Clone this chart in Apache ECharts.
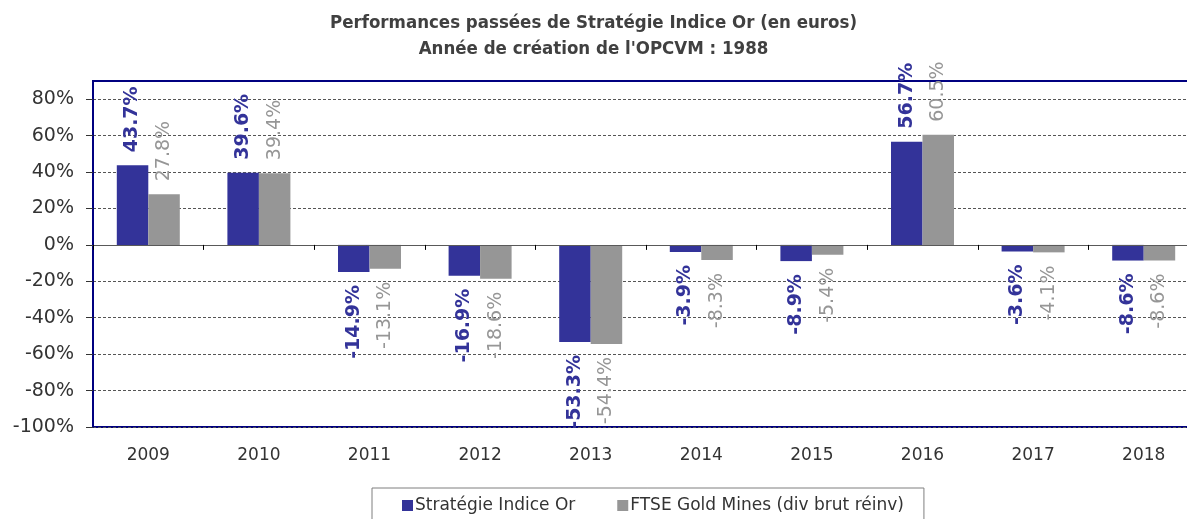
<!DOCTYPE html>
<html>
<head>
<meta charset="utf-8">
<script src="https://cdn.jsdelivr.net/npm/echarts@6/dist/echarts.min.js"></script>
<style>
  html, body { margin: 0; padding: 0; background: #fff; }
  #chart { width: 1187px; height: 519px; }
</style>
</head>
<body>
<div id="chart"></div>
<script>
const years = ["2009", "2010", "2011", "2012", "2013", "2014", "2015", "2016", "2017", "2018"];
const strategie = [43.7, 39.6, -14.9, -16.9, -53.3, -3.9, -8.9, 56.7, -3.6, -8.6];
const ftse = [27.8, 39.4, -13.1, -18.6, -54.4, -8.3, -5.4, 60.5, -4.1, -8.6];
const yTicks = [-100, -80, -60, -40, -20, 0, 20, 40, 60, 80];

const BLUE = "#333399";
const GREY = "#969696";

// labels sit above positive bars and below negative ones, rotated
const withLabels = (values) => values.map(v => ({
  value: v,
  label: {
    position: v >= 0 ? "top" : "bottom",
    align: v >= 0 ? "left" : "right"
  }
}));

const labelBase = (color, weight) => ({
  show: true,
  rotate: 90,
  verticalAlign: "middle",
  distance: 13,
  color: color,
  fontFamily: "DejaVu Sans",
  fontSize: 19,
  fontWeight: weight,
  formatter: (p) => p.value.toFixed(1) + "%"
});

const myChart = echarts.init(document.getElementById("chart"));
myChart.setOption({
  animation: false,
  title: {
    text: "Performances passées de Stratégie Indice Or (en euros)\nAnnée de création de l'OPCVM : 1988",
    left: "center",
    top: 5,
    textStyle: {
      fontFamily: "DejaVu Sans Condensed",
      fontSize: 18.5,
      fontWeight: "bold",
      color: "#404040",
      lineHeight: 26
    }
  },
  legend: {
    left: 372,
    top: 488,
    padding: [9, 20, 9, 30],
    borderColor: "#7f7f7f",
    borderWidth: 1,
    itemWidth: 11,
    itemHeight: 11,
    itemGap: 42,
    icon: "rect",
    textStyle: { fontFamily: "DejaVu Sans", fontSize: 17, color: "#333", padding: [0, 0, 0, -3] },
    data: ["Stratégie Indice Or", "FTSE Gold Mines (div brut réinv)"]
  },
  grid: {
    left: 93,
    right: -12,
    top: 81,
    bottom: 92,
    outerBoundsMode: "none",
    show: true,
    borderColor: "#000080",
    borderWidth: 2
  },
  xAxis: [
    {
      type: "category",
      data: years,
      axisLine: { onZero: true, lineStyle: { color: "#595959", width: 1 } },
      axisTick: { show: true, length: 5, lineStyle: { color: "#000" } },
      axisLabel: { show: false },
      z: 5
    },
    {
      type: "category",
      data: years,
      position: "bottom",
      axisLine: { show: false, onZero: false },
      axisTick: { show: false },
      axisLabel: { margin: 20, fontFamily: "DejaVu Sans", fontSize: 17, color: "#333" }
    }
  ],
  yAxis: {
    type: "value",
    min: -100,
    max: 90,
    interval: 20,
    axisLine: { show: true, lineStyle: { color: "#000080", width: 2 } },
    axisTick: { show: true, length: 7, customValues: yTicks, lineStyle: { color: "#333" } },
    axisLabel: {
      customValues: yTicks,
      margin: 19,
      fontFamily: "DejaVu Sans",
      fontSize: 19,
      color: "#333",
      formatter: "{value}%"
    },
    splitLine: { show: true, lineStyle: { color: "#555", type: [3, 2], width: 1 } }
  },
  series: [
    {
      name: "Stratégie Indice Or",
      type: "bar",
      xAxisIndex: 0,
      barWidth: 31.5,
      barGap: "0%",
      itemStyle: { color: BLUE },
      label: labelBase(BLUE, "bold"),
      data: withLabels(strategie)
    },
    {
      name: "FTSE Gold Mines (div brut réinv)",
      type: "bar",
      xAxisIndex: 0,
      barWidth: 31.5,
      barGap: "0%",
      itemStyle: { color: GREY },
      label: labelBase(GREY, "normal"),
      data: withLabels(ftse)
    }
  ]
});
</script>
</body>
</html>
